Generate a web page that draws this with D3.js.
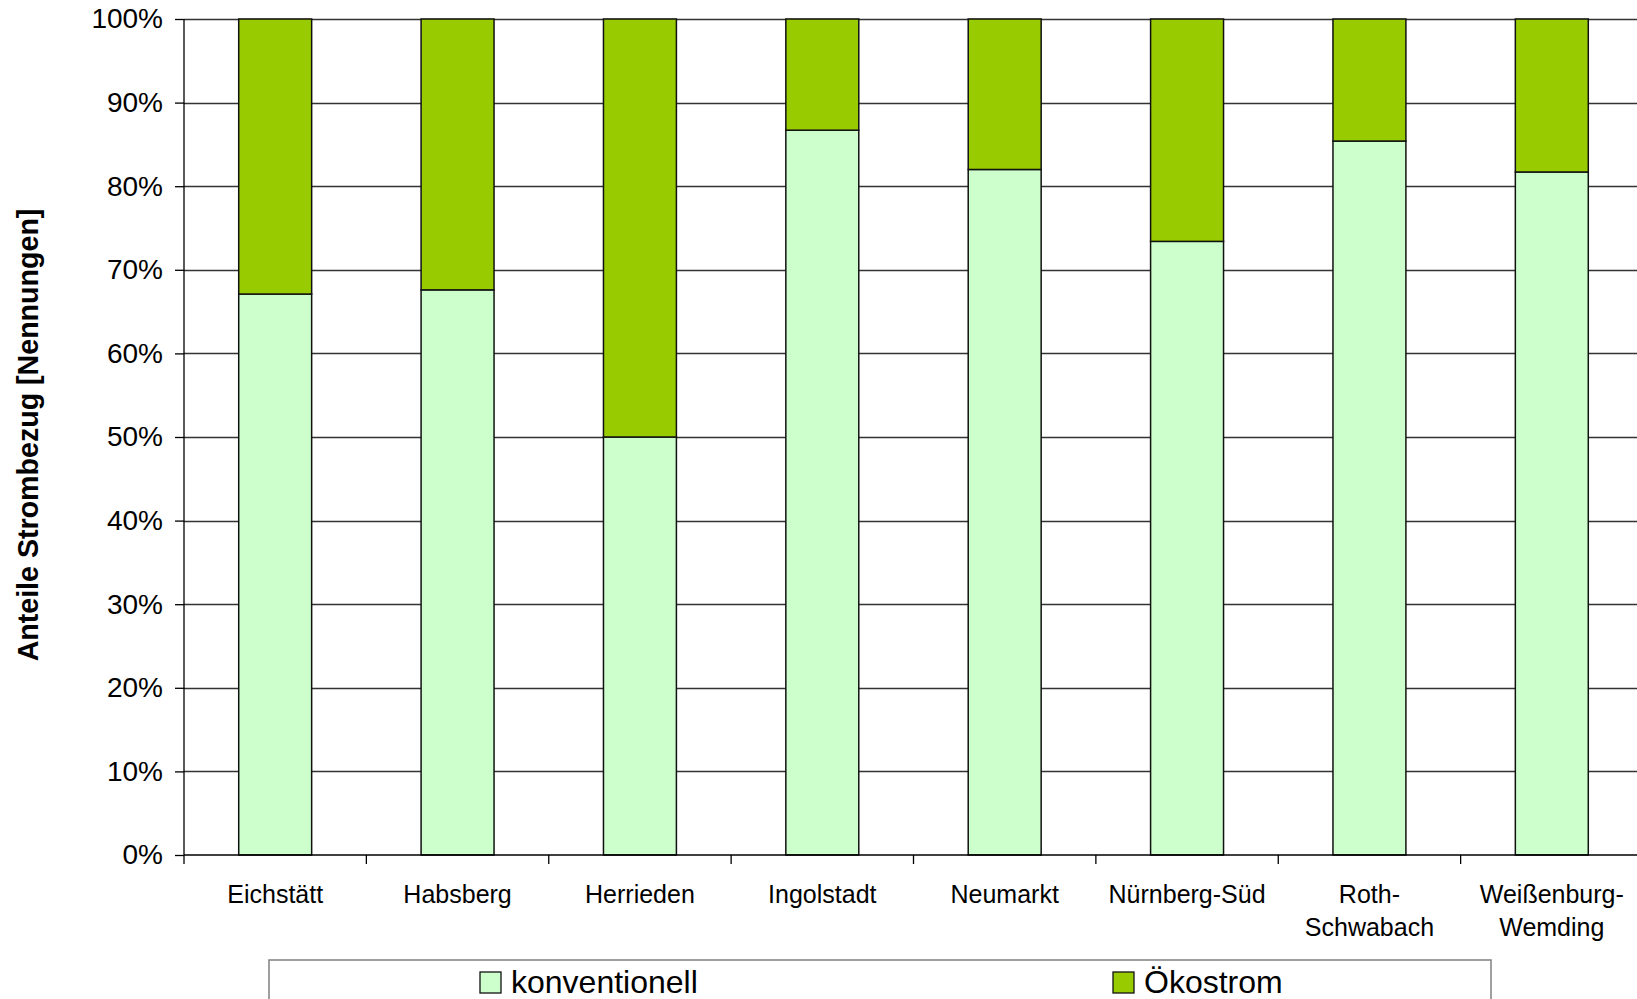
<!DOCTYPE html>
<html>
<head>
<meta charset="utf-8">
<script src="https://cdn.jsdelivr.net/npm/d3@7"></script>
<style>
  html, body { margin: 0; padding: 0; background: #fff; }
  svg { display: block; font-family: "Liberation Sans", Arial, sans-serif; }
</style>
</head>
<body>
<svg id="chart" width="1637" height="999"></svg>
<script>
const categories = ["Eichstätt", "Habsberg", "Herrieden", "Ingolstadt", "Neumarkt", "Nürnberg-Süd", "Roth-Schwabach", "Weißenburg-Wemding"];
const categoryLabels = [["Eichstätt"], ["Habsberg"], ["Herrieden"], ["Ingolstadt"], ["Neumarkt"], ["Nürnberg-Süd"], ["Roth-", "Schwabach"], ["Weißenburg-", "Wemding"]];
const konventionell = [67.1, 67.6, 50.0, 86.7, 82.0, 73.4, 85.4, 81.7];
const oekostrom = [32.9, 32.4, 50.0, 13.3, 18.0, 26.6, 14.6, 18.3];
const seriesNames = ["konventionell", "Ökostrom"];
const seriesColors = ["#CCFFCC", "#99CC00"];
const yTicks = [0, 10, 20, 30, 40, 50, 60, 70, 80, 90, 100];
const yTitle = "Anteile Strombezug [Nennungen]";

(function () {
const svg = d3.select("#chart");
const pL = 184, pR = 1643, pT = 19, pB = 855;

const rows = categories.map((c, i) => ({ cat: c, konventionell: konventionell[i], "Ökostrom": oekostrom[i] }));
const stacked = d3.stack().keys(seriesNames)(rows);

const x = d3.scaleBand().domain(categories).range([pL, pR]).paddingInner(0.6).paddingOuter(0.3);
const y = d3.scaleLinear().domain([0, 100]).range([pB, pT]);
const step = x.step();

// gridlines
svg.append("g").selectAll("line").data(yTicks.filter(t => t > 0)).join("line")
  .attr("x1", pL).attr("x2", pR)
  .attr("y1", d => Math.round(y(d)) + 0.5).attr("y2", d => Math.round(y(d)) + 0.5)
  .attr("stroke", "#333").attr("stroke-width", 1.3);

// bars
svg.append("g").selectAll("g").data(stacked).join("g")
  .attr("fill", (d, i) => seriesColors[i])
  .selectAll("rect").data(d => d).join("rect")
  .attr("x", d => x(d.data.cat))
  .attr("width", x.bandwidth())
  .attr("y", d => y(d[1]))
  .attr("height", d => y(d[0]) - y(d[1]))
  .attr("stroke", "#111").attr("stroke-width", 1.5);

// y axis
const yAxis = d3.axisLeft(y).tickValues(yTicks).tickSize(9).tickPadding(12).tickFormat(d => d + "%");
const gy = svg.append("g").attr("transform", `translate(${pL},0)`).call(yAxis);
gy.select(".domain").attr("stroke", "#000").attr("stroke-width", 1.3).attr("d", `M0,${pT}V${pB}`);
gy.selectAll(".tick line").attr("stroke", "#000").attr("stroke-width", 1.3);
gy.selectAll(".tick text").attr("font-size", 28).attr("fill", "#000")
  .attr("font-family", "Liberation Sans, Arial, sans-serif");

// x axis line
svg.append("line").attr("x1", pL).attr("x2", pR).attr("y1", pB).attr("y2", pB)
  .attr("stroke", "#000").attr("stroke-width", 1.3);
// x ticks at band boundaries
svg.append("g").selectAll("line").data(d3.range(categories.length + 1)).join("line")
  .attr("x1", i => pL + i * step).attr("x2", i => pL + i * step)
  .attr("y1", pB).attr("y2", pB + 9)
  .attr("stroke", "#000").attr("stroke-width", 1.3);

// x labels
const xl = svg.append("g").selectAll("text").data(categories).join("text")
  .attr("x", d => x(d) + x.bandwidth() / 2)
  .attr("y", 903)
  .attr("text-anchor", "middle")
  .attr("font-size", 25).attr("fill", "#000");
xl.each(function(d, i) {
  const t = d3.select(this);
  categoryLabels[i].forEach((line, j) => {
    t.append("tspan").attr("x", x(d) + x.bandwidth() / 2).attr("dy", j === 0 ? 0 : 33).text(line);
  });
});

// y title
svg.append("text")
  .attr("transform", `translate(28,${(pT + pB) / 2 - 2}) rotate(-90)`)
  .attr("text-anchor", "middle").attr("dominant-baseline", "central")
  .attr("font-size", 28.6).attr("font-weight", "bold").attr("fill", "#000")
  .text(yTitle);

// legend
svg.append("rect").attr("x", 269).attr("y", 960).attr("width", 1222).attr("height", 60)
  .attr("fill", "#fff").attr("stroke", "#808080").attr("stroke-width", 1.5);
const legendX = [480, 1113];
const lg = svg.append("g").selectAll("g").data(seriesNames).join("g")
  .attr("transform", (d, i) => `translate(${legendX[i]},972)`);
lg.append("rect").attr("width", 21).attr("height", 21)
  .attr("fill", (d, i) => seriesColors[i]).attr("stroke", "#111").attr("stroke-width", 1.3);
lg.append("text").attr("x", 31).attr("y", 21).attr("font-size", 32).attr("fill", "#000").text(d => d);
})();
</script>
</body>
</html>
